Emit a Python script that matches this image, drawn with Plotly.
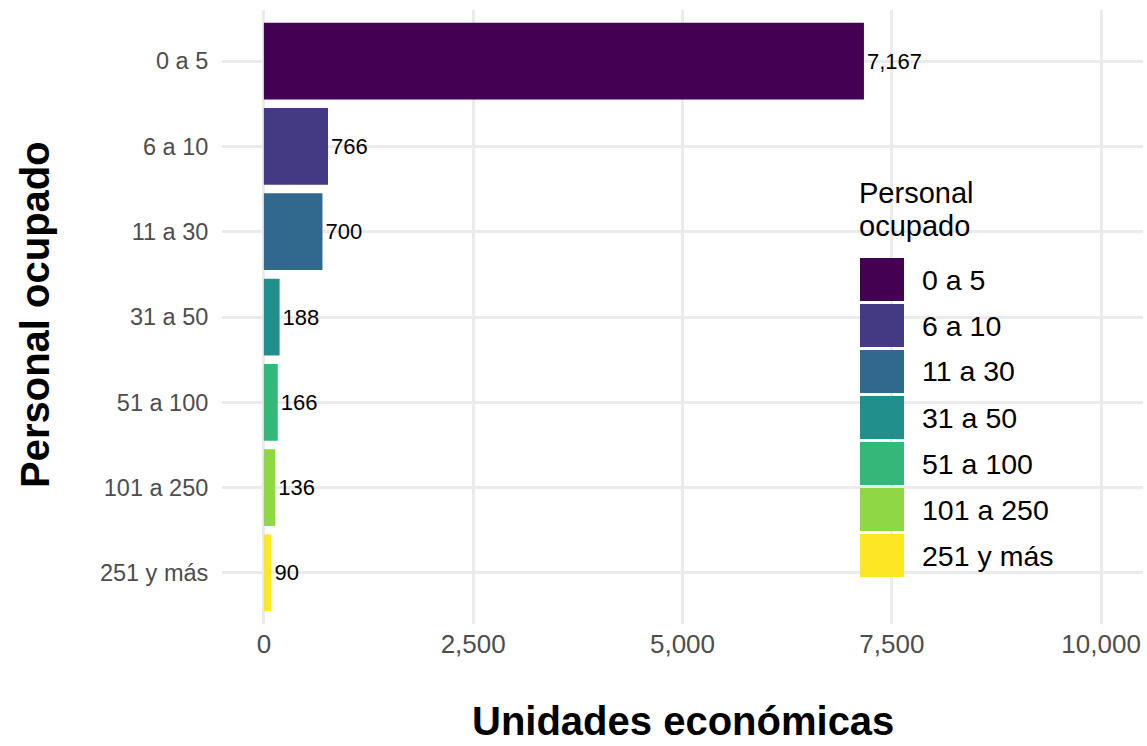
import plotly.graph_objects as go

categorias = ['0 a 5', '6 a 10', '11 a 30', '31 a 50', '51 a 100', '101 a 250', '251 y más']
unidades = [7167, 766, 700, 188, 166, 136, 90]
colores = ['#440154', '#443983', '#31688E', '#21908C', '#35B779', '#8FD744', '#FDE725']
ticks_x = [0, 2500, 5000, 7500, 10000]
ticks_x_txt = ['0', '2,500', '5,000', '7,500', '10,000']

W, H = 1147, 746
L, R, T, B = 222, 4, 10, 122
pw, ph = W - L - R, H - T - B


def px_x(x):
    return (x - L) / pw


def px_y(y):
    return (H - B - y) / ph


fuente = 'Liberation Sans, Arial, sans-serif'

fig = go.Figure()
fig.add_trace(go.Bar(
    x=unidades, y=categorias, orientation='h',
    marker=dict(color=colores, line=dict(width=0)),
    width=0.9,
    texttemplate='%{x:,}', textposition='outside',
    textfont=dict(size=22, color='black', family=fuente),
    cliponaxis=False, showlegend=False,
))

fig.update_xaxes(
    range=[-500, 10500], tickvals=ticks_x, ticktext=ticks_x_txt,
    showgrid=True, gridcolor='#EBEBEB', gridwidth=3, zeroline=False,
    tickfont=dict(size=26, color='#4D4D4D', family=fuente),
    ticks='', ticklabelstandoff=2,
)
fig.update_yaxes(
    categoryorder='array', categoryarray=categorias,
    range=[len(categorias) - 0.4, -0.6],
    showgrid=True, gridcolor='#EBEBEB', gridwidth=3, zeroline=False,
    tickfont=dict(size=23.5, color='#4D4D4D', family=fuente),
    ticks='outside', ticklen=8, tickcolor='rgba(0,0,0,0)',
)

# titulos de ejes
fig.add_annotation(text='<b>Unidades económicas</b>', xref='paper', yref='paper',
                   x=0.5, y=px_y(745), xanchor='center', yanchor='bottom',
                   showarrow=False, font=dict(size=40, color='black', family=fuente))
fig.add_annotation(text='<b>Personal ocupado</b>', xref='paper', yref='paper',
                   x=px_x(35), y=px_y(315), xanchor='center', yanchor='middle',
                   textangle=-90, showarrow=False,
                   font=dict(size=40, color='black', family=fuente))

# leyenda manual
fig.add_annotation(text='Personal', xref='paper', yref='paper', x=px_x(857), y=px_y(193),
                   xanchor='left', yanchor='middle', showarrow=False,
                   font=dict(size=29, color='black', family=fuente))
fig.add_annotation(text='ocupado', xref='paper', yref='paper', x=px_x(857), y=px_y(226),
                   xanchor='left', yanchor='middle', showarrow=False,
                   font=dict(size=29, color='black', family=fuente))
for i, (cat, col) in enumerate(zip(categorias, colores)):
    top = 258 + 46 * i
    fig.add_shape(type='rect', xref='paper', yref='paper',
                  x0=px_x(860), x1=px_x(904), y0=px_y(top), y1=px_y(top + 43),
                  fillcolor=col, line=dict(width=0), layer='above')
    fig.add_annotation(text=cat, xref='paper', yref='paper', x=px_x(920), y=px_y(top + 21.5),
                       xanchor='left', yanchor='middle', showarrow=False,
                       font=dict(size=28.5, color='black', family=fuente))

fig.update_layout(
    width=W, height=H,
    margin=dict(l=L, r=R, t=T, b=B, autoexpand=False),
    plot_bgcolor='white', paper_bgcolor='white',
    font=dict(family=fuente),
)

fig.write_html('out.html', config={'displayModeBar': False},
               post_script="document.body.style.margin='0';")
